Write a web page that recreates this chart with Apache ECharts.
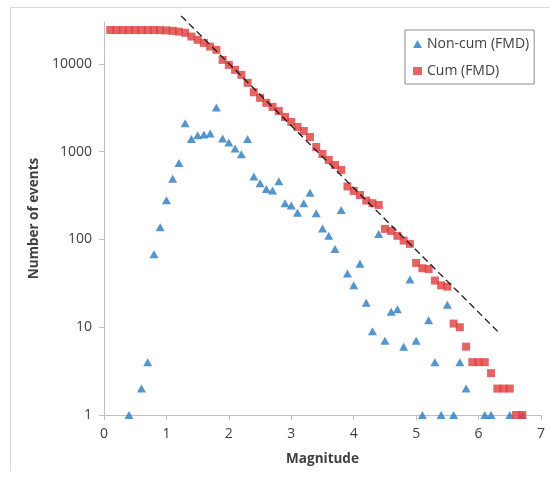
<!DOCTYPE html>
<html>
<head>
<meta charset="utf-8">
<script src="https://cdn.jsdelivr.net/npm/echarts@6/dist/echarts.min.js"></script>
<style>html,body{margin:0;padding:0;background:#fff}#c{width:550px;height:482px}</style>
</head>
<body>
<div id="c"></div>
<script>
// Non-cumulative FMD
var nonCumM = [0.4,0.6,0.7,0.8,0.9,1.0,1.1,1.2,1.3,1.4,1.5,1.6,1.7,1.8,1.9,2.0,2.1,2.2,2.3,2.4,2.5,2.6,2.7,2.8,2.9,3.0,3.1,3.2,3.3,3.4,3.5,3.6,3.7,3.8,3.9,4.0,4.1,4.2,4.3,4.4,4.5,4.6,4.7,4.8,4.9,5.0,5.1,5.2,5.3,5.4,5.5,5.6,5.7,5.8,6.1,6.2,6.5,6.7];
var nonCumN = [1,2,4,68,138,280,490,745,2110,1390,1540,1565,1610,3180,1410,1270,1090,935,1390,520,437,376,360,460,259,243,202,259,341,199,133,110,78,217,41,30,53,19,9,115,7,15,16,6,35,7,1,12,4,1,18,1,4,2,1,1,1,1];
// Cumulative FMD
var cumM = [0.1,0.2,0.3,0.4,0.5,0.6,0.7,0.8,0.9,1.0,1.1,1.2,1.3,1.4,1.5,1.6,1.7,1.8,1.9,2.0,2.1,2.2,2.3,2.4,2.5,2.6,2.7,2.8,2.9,3.0,3.1,3.2,3.3,3.4,3.5,3.6,3.7,3.8,3.9,4.0,4.1,4.2,4.3,4.4,4.5,4.6,4.7,4.8,4.9,5.0,5.1,5.2,5.3,5.4,5.5,5.6,5.7,5.8,5.9,6.0,6.1,6.2,6.3,6.4,6.5,6.6,6.7];
var cumN = [24300,24300,24300,24300,24300,24300,24300,24300,24230,24100,23800,23300,22600,20500,18800,17350,15750,14450,11100,9750,8550,7500,6080,4750,4100,3600,3240,2900,2490,2180,1910,1720,1470,1130,940,805,705,620,402,357,321,277,259,247,132,125,110,97,89,54,47,46,34,30,29,11,10,6,4,4,4,3,2,2,2,1,1];
// Fitted Gutenberg-Richter line end points
var fitM = [1.234, 6.346];
var fitN = [35240, 8.4];
// Axis ticks
var xTicks = [0,1,2,3,4,5,6,7];
var yTicks = [1,10,100,1000,10000];

function pairs(a, b) { return a.map(function (v, i) { return [v, b[i]]; }); }

var chart = echarts.init(document.getElementById('c'), null, {renderer: 'canvas'});
var font = 'Open Sans';
chart.setOption({
  animation: false,
  backgroundColor: '#fff',
  textStyle: {fontFamily: font},
  graphic: [
    {type: 'line', shape: {x1: 10, y1: 7.5, x2: 550, y2: 7.5}, style: {stroke: '#d9d9d9', lineWidth: 1}},
    {type: 'line', shape: {x1: 10.5, y1: 7, x2: 10.5, y2: 471}, style: {stroke: '#d9d9d9', lineWidth: 1}}
  ],
  grid: {left: 104, right: 9, top: 22, bottom: 67, containLabel: false},
  legend: {
    data: ['Non-cum (FMD)', 'Cum (FMD)'],
    orient: 'vertical', left: 405, top: 30,
    padding: [7, 5, 6, 8], itemGap: 13, itemWidth: 9, itemHeight: 8, itemTextGap: 5,
    borderColor: '#8c8c8c', borderWidth: 1, borderRadius: 0,
    textStyle: {fontFamily: font, fontSize: 14, color: '#404040'}
  },
  xAxis: {
    type: 'value', min: 0, max: 7, interval: 1,
    name: 'Magnitude', nameLocation: 'middle', nameGap: 37,
    nameTextStyle: {fontFamily: font, fontSize: 13.5, fontWeight: 'bold', color: '#404040'},
    axisLine: {lineStyle: {color: '#bfbfbf', width: 1}},
    axisTick: {show: true, length: 5, lineStyle: {color: '#bfbfbf'}},
    axisLabel: {fontFamily: font, fontSize: 14, color: '#404040', margin: 12,
      formatter: function (v) { return xTicks.indexOf(v) >= 0 ? String(v) : ''; }},
    splitLine: {show: false}
  },
  yAxis: {
    type: 'log', logBase: 10, min: 1, max: 30000,
    name: 'Number of events', nameLocation: 'middle', nameGap: 59,
    nameTextStyle: {fontFamily: font, fontSize: 13.5, fontWeight: 'bold', color: '#404040'},
    axisLine: {show: true, lineStyle: {color: '#bfbfbf', width: 1}},
    axisTick: {show: true, length: 5, lineStyle: {color: '#bfbfbf'}},
    axisLabel: {fontFamily: font, fontSize: 14, color: '#404040', margin: 12, showMaxLabel: false,
      formatter: function (v) { var r = Math.round(v); return yTicks.indexOf(r) >= 0 ? String(r) : ''; }},
    minorTick: {show: false},
    splitLine: {show: false}
  },
  series: [
    {
      name: 'Non-cum (FMD)', type: 'scatter', symbol: 'triangle', symbolSize: [9, 8],
      itemStyle: {color: '#2b7bc0'}, data: pairs(nonCumM, nonCumN), z: 2
    },
    {
      name: 'Cum (FMD)', type: 'scatter', symbol: 'rect', symbolSize: [8, 8],
      itemStyle: {color: '#e03c3c'}, data: pairs(cumM, cumN), z: 3
    },
    {
      name: 'fit', type: 'line', showSymbol: false, symbol: 'none', clip: false,
      lineStyle: {color: '#1a1a1a', width: 1.3, type: [7, 4]},
      data: pairs(fitM, fitN), z: 4, silent: true
    }
  ]
});
</script>
</body>
</html>
